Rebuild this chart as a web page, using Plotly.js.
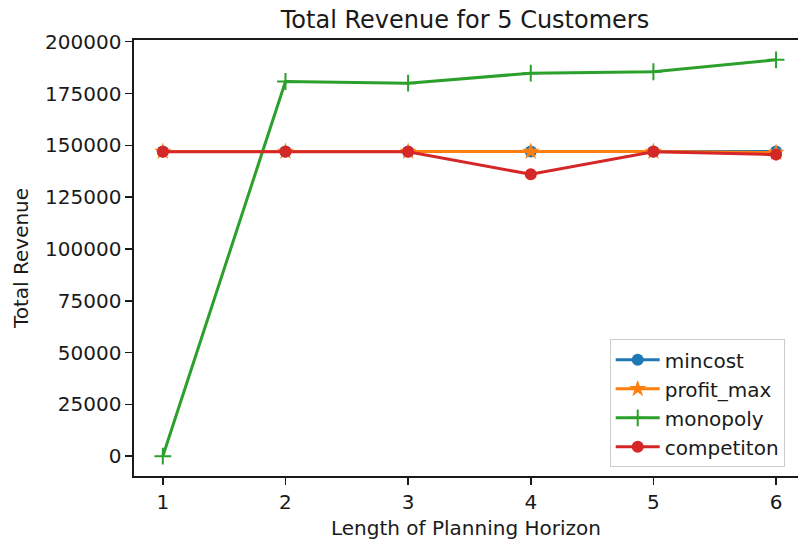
<!DOCTYPE html>
<html>
<head>
<meta charset="utf-8">
<script src="https://cdn.plot.ly/plotly-3.0.1.min.js"></script>
<style>
  html, body { margin: 0; padding: 0; background: #ffffff; }
  #chart { width: 798px; height: 544px; }
</style>
</head>
<body>
<div id="chart"></div>
<script>
// Planning horizon lengths (x axis)
const horizon = [1, 2, 3, 4, 5, 6];

// Total revenue per strategy
const mincost    = [147000, 147000, 147000, 147000, 147000, 147000];
const profitMax  = [147000, 147000, 147000, 147000, 147000, 146500];
const monopoly   = [0, 180800, 180000, 184800, 185500, 191250];
const competiton = [146900, 146900, 146900, 136000, 146900, 145500];

// Axis ticks
const yTickVals = [0, 25000, 50000, 75000, 100000, 125000, 150000, 175000, 200000];
const yTickText = ["0", "25000", "50000", "75000", "100000", "125000", "150000", "175000", "200000"];
const xTickVals = [1, 2, 3, 4, 5, 6];
const xTickText = ["1", "2", "3", "4", "5", "6"];

const FONT = "DejaVu Sans, Liberation Sans, sans-serif";
const INK = "#1a1a1a";
const LW = 3;

function series(name, y, color, symbol, size, extraMarker) {
  return {
    type: "scatter",
    mode: "lines+markers",
    name: name,
    x: horizon,
    y: y,
    line: { color: color, width: LW },
    marker: Object.assign({ color: color, symbol: symbol, size: size, line: { width: 0 } }, extraMarker || {}),
    cliponaxis: false
  };
}

const traces = [
  series("mincost", mincost, "#1f77b4", "circle", 12),
  series("profit_max", profitMax, "#ff7f0e", "star", 13),
  series("monopoly", monopoly, "#2ca02c", "cross-thin", 12, { line: { color: "#2ca02c", width: 2 } }),
  series("competiton", competiton, "#d62728", "circle", 12)
];

const layout = {
  width: 798,
  height: 544,
  margin: { l: 134, r: 0, t: 40, b: 68, pad: 0 },
  paper_bgcolor: "#ffffff",
  plot_bgcolor: "#ffffff",
  font: { family: FONT, size: 20, color: INK },
  showlegend: true,
  title: {
    text: "Total Revenue for 5 Customers",
    font: { family: FONT, size: 24, color: INK },
    xref: "paper",
    x: 0.4985,
    xanchor: "center",
    yref: "container",
    y: 1 - 20 / 544,
    yanchor: "middle"
  },
  xaxis: {
    range: [0.765, 6.179],
    tickmode: "array",
    tickvals: xTickVals,
    ticktext: xTickText,
    ticks: "outside",
    ticklen: 7,
    tickwidth: 1.6,
    tickcolor: INK,
    showline: true,
    linecolor: INK,
    linewidth: 1.6,
    mirror: true,
    showgrid: false,
    zeroline: false,
    tickfont: { family: FONT, size: 20, color: INK },
    title: { text: "Length of Planning Horizon", font: { family: FONT, size: 20, color: INK }, standoff: 8 }
  },
  yaxis: {
    range: [-9562.5, 200812.5],
    tickmode: "array",
    tickvals: yTickVals,
    ticktext: yTickText,
    ticks: "outside",
    ticklen: 7,
    tickwidth: 1.6,
    tickcolor: INK,
    showline: true,
    linecolor: INK,
    linewidth: 1.6,
    mirror: false,
    showgrid: false,
    zeroline: false,
    tickfont: { family: FONT, size: 20, color: INK },
    title: { text: "Total Revenue", font: { family: FONT, size: 20, color: INK }, standoff: 11 }
  },
  legend: {
    x: 0.98,
    y: 0.02,
    xanchor: "right",
    yanchor: "bottom",
    bgcolor: "rgba(255,255,255,0.8)",
    bordercolor: "#cccccc",
    borderwidth: 1,
    itemwidth: 44,
    font: { family: FONT, size: 20, color: INK },
    tracegroupgap: 0
  }
};

Plotly.newPlot("chart", traces, layout, { displayModeBar: false, staticPlot: true });
</script>
</body>
</html>
